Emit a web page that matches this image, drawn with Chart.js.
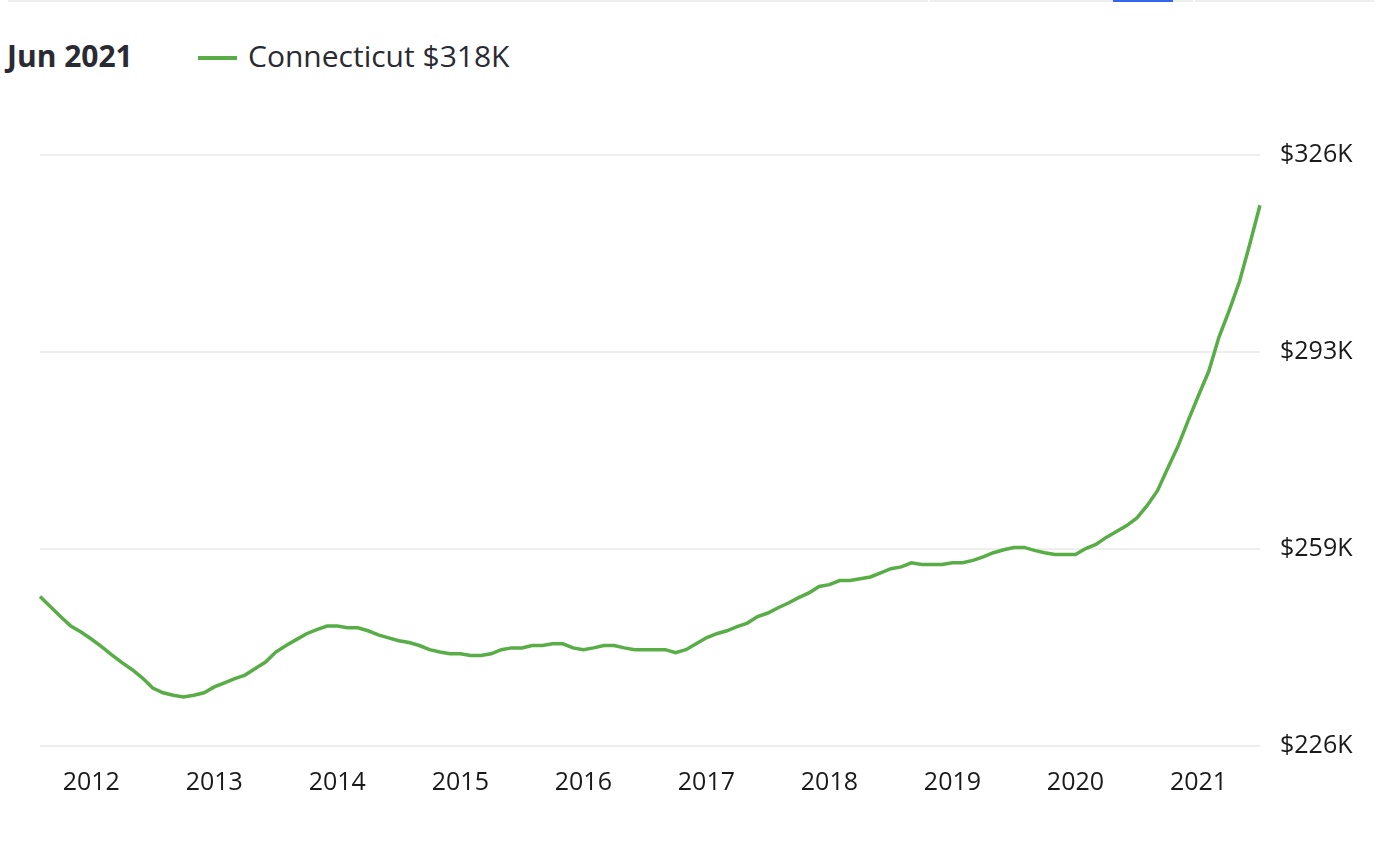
<!DOCTYPE html>
<html>
<head>
<meta charset="utf-8">
<script src="https://cdn.jsdelivr.net/npm/chart.js@4"></script>
<style>
  html, body { margin: 0; padding: 0; background: #fff; }
  body { width: 1396px; height: 848px; position: relative; overflow: hidden; font-family: "Open Sans", sans-serif; color: #2a2a33; }
  .bar { position: absolute; top: 0; height: 2px; background: #eeeeee; }
  #period { position: absolute; left: 7px; top: 41px; font-size: 30px; line-height: 30px; font-weight: 700; white-space: nowrap; }
  #swatch { position: absolute; left: 198px; top: 56px; width: 39px; height: 4px; background: #58ad47; }
  #legendText { position: absolute; left: 248px; top: 41px; font-size: 30px; line-height: 30px; white-space: nowrap; }
  #wrap { position: absolute; left: 0; top: 100px; width: 1396px; height: 748px; }
</style>
</head>
<body>
<div class="bar" style="left:8px;width:920px"></div>
<div class="bar" style="left:930px;width:263px"></div>
<div class="bar" style="left:1113px;width:60px;background:#3366ee"></div>
<div class="bar" style="left:1195px;width:179px"></div>

<div id="period">Jun 2021</div>
<div id="swatch"></div>
<div id="legendText">Connecticut $318K</div>

<div id="wrap"><canvas id="homeChart"></canvas></div>

<script>
// monthly typical home value, Connecticut, thousands of dollars (Jul 2011 - Jun 2021)
var seriesName = "Connecticut";

var months = [];
for (var i = 0; i < 120; i++) {
  var m = (6 + i) % 12;
  var yr = 2011 + Math.floor((6 + i) / 12);
  months.push(yr + "-" + String(m + 1).padStart(2, "0"));
}

var homeValues = [
  251.3, 249.6, 247.9, 246.3, 245.3, 244.1, 242.8, 241.4, 240.1, 238.9,
  237.5, 235.8, 235.0, 234.6, 234.3, 234.6, 235.0, 236.0, 236.7, 237.4,
  238.0, 239.1, 240.2, 241.9, 243.0, 244.0, 245.0, 245.7, 246.3, 246.3,
  246.0, 246.0, 245.5, 244.8, 244.3, 243.8, 243.5, 243.0, 242.3, 241.9,
  241.6, 241.6, 241.3, 241.3, 241.6, 242.3, 242.6, 242.6, 243.0, 243.0,
  243.3, 243.3, 242.6, 242.3, 242.6, 243.0, 243.0, 242.6, 242.3, 242.3,
  242.3, 242.3, 241.8, 242.3, 243.3, 244.3, 245.0, 245.5, 246.2, 246.8,
  247.9, 248.5, 249.4, 250.2, 251.1, 251.9, 253.0, 253.3, 254.0, 254.0,
  254.3, 254.6, 255.3, 256.0, 256.3, 257.0, 256.7, 256.7, 256.7, 257.0,
  257.0, 257.4, 258.0, 258.7, 259.2, 259.6, 259.6, 259.1, 258.7, 258.4,
  258.4, 258.4, 259.4, 260.1, 261.3, 262.3, 263.3, 264.6, 266.7, 269.2,
  273.0, 276.7, 281.1, 285.3, 289.4, 295.2, 299.7, 304.6, 310.9, 317.5
];

var yMin = 226;
var yMax = 326;

Chart.defaults.font.family = "'Open Sans', sans-serif";
Chart.defaults.color = "#1a1a1a";

var ctx = document.getElementById("homeChart");
var homeChart = new Chart(ctx, {
  type: "line",
  data: {
    labels: months,
    datasets: [
      {
        label: seriesName,
        data: homeValues,
        borderColor: "#58ad47",
        borderWidth: 3.5,
        pointRadius: 0,
        pointHoverRadius: 0,
        lineTension: 0,
        fill: false
      }
    ]
  },
  options: {
    responsive: true,
    maintainAspectRatio: false,
    animation: false,
    layout: { padding: { left: 40, top: 55, right: 0, bottom: 28 } },
    plugins: { legend: { display: false }, tooltip: { enabled: false } },
    scales: {
      x: {
        grid: { display: false, drawTicks: false },
        border: { display: false },
        ticks: {
          autoSkip: false,
          maxRotation: 0,
          padding: 22,
          font: { size: 25 },
          callback: function (v, idx) {
            var lab = months[idx];
            return lab.endsWith("-12") ? String(+lab.slice(0, 4) + 1) : null;
          }
        }
      },
      y: {
        position: "right",
        min: yMin,
        max: yMax,
        grid: { color: "#eeeeee", lineWidth: 2, drawTicks: false },
        border: { display: false },
        afterFit: function (scale) { scale.width = 136; },
        ticks: {
          count: 4,
          padding: 20,
          font: { size: 25 },
          callback: function (v) { return "$" + Math.round(v) + "K"; }
        }
      }
    }
  }
});
</script>
</body>
</html>
